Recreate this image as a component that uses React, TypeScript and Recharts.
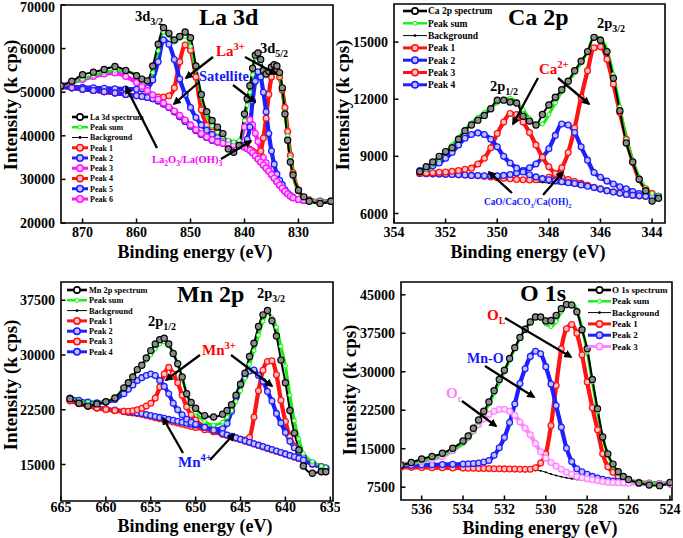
import React from "react";
import { LineChart, Line, XAxis, YAxis, ReferenceArea } from "recharts";

const FONT = "'Liberation Serif', 'Times New Roman', Times, serif";

const RED = "#ff1414";
const BLUE = "#1e1eff";
const MAGENTA = "#ff14ff";
const PINK = "#ff82ff";
const GREEN = "#14f014";
const TINT: Record<string, string> = {
  [RED]: "#ffc4c4",
  [BLUE]: "#c4c4ff",
  [MAGENTA]: "#ffc4ff",
  [PINK]: "#ffe2ff",
};

// ---------------- La 3d ----------------
const laEnergy = [874, 872, 870, 868, 866, 864, 862, 860, 859, 858, 857, 856, 855, 854, 853, 852, 851, 850, 849, 848, 847, 846, 845, 844, 843, 842, 841, 840, 839.5, 839, 838.5, 838, 837.5, 837, 836.5, 836, 835.5, 835, 834.5, 834, 833.5, 833, 832.5, 832, 831.5, 831, 830, 829, 828, 826, 824];
const laSpectrum = [51500, 52500, 54000, 54600, 55200, 55900, 55000, 53800, 53000, 52600, 56000, 61000, 64800, 63500, 62000, 62800, 63800, 62500, 56000, 49500, 45500, 43500, 42000, 40500, 37000, 36200, 37800, 45000, 48500, 51500, 55500, 58500, 59000, 57500, 55000, 54200, 54800, 55800, 56300, 56000, 54500, 51000, 45000, 39000, 34000, 31000, 27500, 26000, 25000, 24500, 25000];
const laSum = [51500, 52200, 53000, 53800, 54500, 55000, 54800, 54000, 53200, 52500, 54500, 59500, 63800, 63000, 61500, 62300, 62800, 60500, 55000, 49000, 44800, 42300, 40800, 39800, 39000, 38600, 38900, 43500, 47000, 50000, 54000, 57800, 58200, 56800, 54500, 53700, 54400, 55400, 55900, 55600, 53800, 50500, 45500, 40000, 35000, 31500, 27200, 25800, 25300, 25100, 25100];
const laBackground = [51300, 51000, 50700, 50400, 50100, 49800, 49500, 49200, 49000, 48800, 48500, 48000, 47300, 46500, 45500, 44400, 43300, 42200, 41200, 40300, 39600, 39000, 38600, 38300, 38100, 37900, 37700, 37400, 37100, 36700, 36100, 35400, 34700, 34000, 33300, 32600, 31900, 31100, 30300, 29500, 28700, 28000, 27300, 26700, 26200, 25800, 25400, 25200, 25100, 25000, 25000];
const laPeak1 = [51300, 51000, 50700, 50400, 50100, 49800, 49500, 49300, 49200, 49100, 49000, 48900, 48900, 49200, 51000, 57000, 60800, 59600, 53500, 46000, 42400, 40800, 39900, 39100, 38600, 38200, 37900, 37500, 37100, 36700, 36100, 35400, 34700, 34000, 33300, 32600, 31900, 31100, 30300, 29500, 28700, 28000, 27300, 26700, 26200, 25800, 25400, 25200, 25100, 25000, 25000];
const laPeak2 = [51300, 51200, 51100, 51000, 50900, 50800, 50750, 50700, 50800, 51000, 52800, 57000, 62000, 61000, 57500, 53000, 49500, 46500, 44200, 42500, 41300, 40300, 39600, 39000, 38600, 38300, 38000, 37600, 37100, 36700, 36100, 35400, 34700, 34000, 33300, 32600, 31900, 31100, 30300, 29500, 28700, 28000, 27300, 26700, 26200, 25800, 25400, 25200, 25100, 25000, 25000];
const laPeak3 = [51300, 51000, 50700, 50400, 50100, 49800, 49500, 49200, 49000, 48800, 48500, 48000, 47300, 46500, 45500, 44400, 43300, 42200, 41200, 40300, 39600, 39000, 38600, 38300, 38100, 38000, 38200, 42000, 43400, 43700, 42500, 40600, 38700, 36500, 35000, 33800, 32400, 31300, 30300, 29500, 28700, 28000, 27300, 26700, 26200, 25800, 25400, 25200, 25100, 25000, 25000];
const laPeak4 = [51300, 51000, 50700, 50400, 50100, 49800, 49500, 49200, 49000, 48800, 48500, 48000, 47300, 46500, 45500, 44400, 43300, 42200, 41200, 40300, 39600, 39000, 38600, 38300, 38100, 37900, 37700, 37400, 37200, 36900, 36500, 36100, 35700, 36500, 39500, 44000, 49500, 53500, 55300, 55400, 53500, 50500, 46500, 41000, 35500, 31500, 27400, 25800, 25300, 25000, 25000];
const laPeak5 = [51300, 51000, 50700, 50400, 50100, 49800, 49500, 49200, 49000, 48800, 48500, 48000, 47300, 46500, 45500, 44400, 43300, 42200, 41200, 40300, 39600, 39000, 38600, 38300, 38100, 37900, 37700, 37800, 39200, 42000, 48000, 52500, 54700, 53500, 50000, 45500, 40500, 36500, 33500, 31200, 29800, 28800, 27600, 26800, 26300, 25900, 25400, 25200, 25100, 25000, 25000];
const laPeak6 = [51500, 52200, 52900, 53600, 54200, 54400, 53600, 52200, 51300, 50400, 49400, 48400, 47500, 46600, 45700, 44700, 43600, 42500, 41400, 40500, 39700, 39100, 38600, 38300, 38100, 37900, 37700, 37400, 37100, 36700, 36100, 35400, 34700, 34000, 33300, 32600, 31900, 31100, 30300, 29500, 28700, 28000, 27300, 26700, 26200, 25800, 25400, 25200, 25100, 25000, 25000];
const laXTicks = [870, 860, 850, 840, 830];
const laYTicks = [20000, 30000, 40000, 50000, 60000, 70000];
const laLegend = ["La 3d spectrum", "Peak sum", "Background", "Peak 1", "Peak 2", "Peak 3", "Peak 4", "Peak 5", "Peak 6"];

// ---------------- Ca 2p ----------------
const caEnergy = [353, 352.75, 352.5, 352.25, 352, 351.75, 351.5, 351.25, 351, 350.75, 350.5, 350.25, 350, 349.75, 349.5, 349.25, 349, 348.75, 348.5, 348.25, 348, 347.75, 347.5, 347.25, 347, 346.75, 346.5, 346.25, 346, 345.75, 345.5, 345.25, 345, 344.75, 344.5, 344.25, 344, 343.75];
const caSpectrum = [8200, 8450, 8700, 9000, 9250, 9450, 9900, 10350, 10650, 10900, 11150, 11500, 11950, 11950, 11850, 11800, 11100, 10850, 10650, 11200, 11700, 12100, 12500, 12950, 13500, 14000, 14500, 15250, 15100, 14500, 13100, 11400, 9700, 8700, 7800, 7200, 6650, 6800];
const caSum = [8150, 8300, 8550, 8850, 9200, 9600, 10000, 10400, 10750, 11050, 11300, 11550, 11800, 12000, 12050, 11850, 11450, 11000, 10650, 10700, 11200, 11800, 12400, 12900, 13400, 13900, 14500, 15300, 15200, 14600, 13300, 11600, 9900, 8800, 7900, 7350, 7050, 6950];
const caBackground = [8100, 8090, 8080, 8070, 8060, 8050, 8040, 8020, 8000, 7980, 7950, 7920, 7880, 7840, 7800, 7760, 7720, 7690, 7660, 7630, 7600, 7570, 7540, 7500, 7460, 7410, 7360, 7290, 7220, 7150, 7090, 7030, 6980, 6940, 6910, 6890, 6880, 6870];
const caPeak1 = [8100, 8090, 8080, 8070, 8060, 8050, 8040, 8020, 8000, 7980, 7950, 7920, 7880, 7850, 7820, 7790, 7770, 7760, 7770, 7820, 7900, 8050, 8400, 9200, 10500, 12100, 13500, 14700, 14750, 14100, 12800, 11300, 9900, 8700, 7800, 7300, 7050, 6900];
const caPeak2 = [8100, 8090, 8080, 8070, 8060, 8050, 8040, 8020, 8000, 7990, 7980, 7980, 7980, 8000, 8050, 8120, 8250, 8400, 8600, 8950, 9400, 10100, 10700, 10650, 10250, 9500, 8800, 8150, 7900, 7700, 7550, 7400, 7300, 7150, 7050, 6980, 6920, 6900];
const caPeak3 = [8120, 8130, 8140, 8160, 8180, 8220, 8260, 8320, 8380, 8600, 8900, 9450, 10200, 10800, 11250, 11200, 10800, 10250, 9600, 8950, 8450, 8100, 7900, 7780, 7680, 7580, 7480, 7380, 7290, 7200, 7140, 7070, 7000, 6950, 6920, 6900, 6880, 6870];
const caPeak4 = [8250, 8350, 8500, 8650, 8900, 9200, 9600, 9950, 10150, 10230, 10150, 9900, 9500, 9000, 8650, 8380, 8180, 8030, 7920, 7830, 7770, 7720, 7670, 7620, 7570, 7500, 7430, 7360, 7280, 7200, 7130, 7060, 7000, 6960, 6930, 6900, 6880, 6870];
const caXTicks = [354, 352, 350, 348, 346, 344];
const caYTicks = [6000, 9000, 12000, 15000];
const caLegend = ["Ca 2p spectrum", "Peak sum", "Background", "Peak 1", "Peak 2", "Peak 3", "Peak 4"];

// ---------------- Mn 2p ----------------
const mnEnergy = [664, 663, 662, 661, 660, 659, 658, 657.5, 657, 656.5, 656, 655.5, 655, 654.5, 654, 653.5, 653, 652.5, 652, 651.5, 651, 650.5, 650, 649, 648, 647, 646.5, 646, 645.5, 645, 644.5, 644, 643.5, 643, 642.5, 642, 641.5, 641, 640.5, 640, 639.5, 639, 638.5, 638, 637, 636, 635.5];
const mnSpectrum = [24000, 23400, 23000, 23300, 23600, 24100, 25500, 26200, 27000, 28000, 28600, 29600, 30600, 31500, 32100, 32300, 31500, 30200, 28800, 27000, 24700, 23500, 22700, 21700, 21500, 21900, 22400, 23200, 24500, 26000, 27500, 29800, 31600, 33900, 35500, 36100, 34700, 32600, 29300, 26200, 22400, 19300, 17000, 14800, 13800, 14000, 14000];
const mnSum = [24000, 23700, 23500, 23400, 23600, 24200, 25500, 26300, 27100, 27900, 28600, 29300, 30000, 30800, 31500, 31800, 31300, 30300, 28800, 26800, 24700, 23100, 22100, 20900, 20400, 20800, 21500, 22400, 23600, 25100, 26800, 28700, 30600, 32700, 34600, 35800, 35100, 33800, 31200, 28500, 24500, 21000, 18500, 16500, 15400, 14800, 14600];
const mnBackground = [23700, 23300, 22950, 22700, 22500, 22350, 22200, 22120, 22050, 21950, 21850, 21700, 21550, 21400, 21250, 21100, 20950, 20800, 20650, 20500, 20350, 20200, 20050, 19750, 19450, 19100, 18950, 18750, 18550, 18350, 18150, 17950, 17750, 17550, 17350, 17150, 16950, 16750, 16550, 16350, 16150, 15950, 15750, 15500, 15000, 14600, 14450];
const mnPeak1 = [23720, 23320, 22970, 22720, 22520, 22370, 22220, 22140, 22070, 21970, 21870, 21720, 21570, 21420, 21270, 21120, 20970, 20820, 20670, 20520, 20370, 20220, 20070, 19770, 19470, 19130, 18990, 18800, 18620, 18450, 18350, 18700, 21500, 25100, 27900, 29100, 29200, 27300, 23800, 20900, 18800, 17500, 16700, 16000, 15100, 14650, 14480];
const mnPeak2 = [23800, 23400, 23050, 22800, 22600, 22450, 22300, 22230, 22160, 22070, 21980, 21850, 21720, 21580, 21450, 21320, 21180, 21050, 20920, 20790, 20660, 20530, 20420, 20100, 19850, 19900, 20600, 22300, 24200, 26000, 27200, 27800, 27950, 27200, 26400, 25000, 23700, 22000, 20700, 19400, 18200, 17300, 16700, 16000, 15200, 14700, 14500];
const mnPeak3 = [23750, 23350, 23000, 22750, 22550, 22400, 22300, 22300, 22350, 22500, 22700, 23000, 23400, 24100, 25600, 27400, 28300, 27400, 26200, 24500, 22900, 21800, 21100, 20100, 19600, 19200, 19000, 18800, 18600, 18400, 18200, 18000, 17800, 17600, 17400, 17200, 17000, 16800, 16600, 16400, 16200, 16000, 15800, 15550, 15050, 14650, 14480];
const mnPeak4 = [24100, 23800, 23550, 23450, 23550, 23900, 24700, 25300, 25900, 26500, 26900, 27200, 27400, 27200, 26500, 25700, 24700, 23400, 22500, 21800, 21200, 20800, 20500, 20100, 19700, 19250, 19050, 18850, 18650, 18450, 18250, 18050, 17850, 17650, 17450, 17250, 17050, 16850, 16650, 16450, 16250, 16050, 15850, 15600, 15080, 14680, 14490];
const mnXTicks = [665, 660, 655, 650, 645, 640, 635];
const mnYTicks = [15000, 22500, 30000, 37500];
const mnLegend = ["Mn 2p spectrum", "Peak sum", "Background", "Peak 1", "Peak 2", "Peak 3", "Peak 4"];

// ---------------- O 1s ----------------
const oEnergy = [537, 536.5, 536, 535.5, 535, 534.5, 534, 533.75, 533.5, 533.25, 533, 532.75, 532.5, 532.25, 532, 531.75, 531.5, 531.25, 531, 530.75, 530.5, 530.25, 530, 529.75, 529.5, 529.25, 529, 528.75, 528.5, 528.25, 528, 527.75, 527.5, 527.25, 527, 526.75, 526.5, 526.25, 526, 525.5, 525, 524.5, 524];
const oSpectrum = [11800, 12300, 13000, 13500, 14100, 15100, 16500, 17500, 19000, 20600, 22300, 24100, 26300, 28500, 30300, 32600, 34700, 36700, 38300, 39700, 40700, 40700, 39900, 40000, 41000, 42300, 43100, 43000, 41700, 38200, 34500, 28500, 22800, 17300, 14000, 12000, 10500, 9600, 9000, 8300, 7900, 7800, 8400];
const oSum = [11900, 12200, 12600, 13100, 13800, 14700, 16000, 17000, 18400, 20000, 21800, 23700, 25800, 28000, 30000, 32300, 34500, 36500, 38300, 39600, 40400, 40400, 39300, 38800, 39800, 41700, 43200, 43400, 42100, 38500, 33800, 28000, 22200, 17300, 13800, 11500, 10200, 9400, 9000, 8500, 8300, 8200, 8150];
const oBackground = [11400, 11380, 11350, 11320, 11290, 11260, 11230, 11210, 11190, 11170, 11150, 11120, 11100, 11080, 11050, 11020, 10990, 10950, 10900, 10840, 10770, 10700, 10400, 10050, 9760, 9550, 9330, 9150, 9000, 8880, 8780, 8680, 8600, 8520, 8450, 8400, 8350, 8300, 8260, 8220, 8190, 8160, 8150];
const oPeak1 = [11400, 11370, 11340, 11310, 11280, 11250, 11220, 11200, 11180, 11160, 11140, 11120, 11100, 11080, 11060, 11040, 11020, 11000, 10980, 11000, 11300, 12200, 14000, 19500, 27300, 34500, 38400, 39200, 37500, 33300, 28000, 23000, 18700, 14000, 11500, 10400, 9600, 9100, 8800, 8450, 8300, 8200, 8150];
const oPeak2 = [11700, 11750, 11800, 11850, 11900, 11950, 12000, 12050, 12100, 12200, 12400, 12700, 13700, 15200, 17200, 20100, 23700, 27700, 30600, 33000, 34000, 33500, 31000, 27600, 23400, 19200, 15100, 12500, 11100, 10500, 10000, 9600, 9300, 9050, 8850, 8700, 8600, 8500, 8420, 8280, 8220, 8180, 8150];
const oPeak3 = [12000, 12200, 12500, 12900, 13500, 14600, 16300, 17300, 18500, 19700, 20800, 21700, 22300, 22650, 22700, 22300, 21500, 20200, 19000, 17700, 16000, 14400, 13200, 12300, 11600, 11000, 10400, 10000, 9600, 9350, 9150, 8950, 8780, 8600, 8450, 8420, 8370, 8320, 8280, 8240, 8210, 8180, 8160];
const oXTicks = [536, 534, 532, 530, 528, 526, 524];
const oYTicks = [7500, 15000, 22500, 30000, 37500, 45000];
const oLegend = ["O 1s spectrum", "Peak sum", "Background", "Peak 1", "Peak 2", "Peak 3"];

type Kind = "spectrum" | "sum" | "bg" | "peak";
interface SeriesDef {
  key: string;
  label: string;
  kind: Kind;
  color: string;
  values: number[];
}

function makeSeries(labels: string[], kinds: Kind[], colors: string[], values: number[][]): SeriesDef[] {
  return labels.map((label, i) => ({ key: "s" + i, label, kind: kinds[i], color: colors[i], values: values[i] }));
}

const laSeries = makeSeries(
  laLegend,
  ["spectrum", "sum", "bg", "peak", "peak", "peak", "peak", "peak", "peak"],
  ["#000", GREEN, "#000", RED, BLUE, MAGENTA, RED, BLUE, MAGENTA],
  [laSpectrum, laSum, laBackground, laPeak1, laPeak2, laPeak3, laPeak4, laPeak5, laPeak6]
);
const caSeries = makeSeries(
  caLegend,
  ["spectrum", "sum", "bg", "peak", "peak", "peak", "peak"],
  ["#000", GREEN, "#000", RED, BLUE, RED, BLUE],
  [caSpectrum, caSum, caBackground, caPeak1, caPeak2, caPeak3, caPeak4]
);
const mnSeries = makeSeries(
  mnLegend,
  ["spectrum", "sum", "bg", "peak", "peak", "peak", "peak"],
  ["#000", GREEN, "#000", RED, BLUE, RED, BLUE],
  [mnSpectrum, mnSum, mnBackground, mnPeak1, mnPeak2, mnPeak3, mnPeak4]
);
const oSeries = makeSeries(
  oLegend,
  ["spectrum", "sum", "bg", "peak", "peak", "peak"],
  ["#000", GREEN, "#000", RED, BLUE, PINK],
  [oSpectrum, oSum, oBackground, oPeak1, oPeak2, oPeak3]
);

function buildRows(energy: number[], series: SeriesDef[]) {
  return energy.map((x, i) => {
    const row: Record<string, number> = { x };
    series.forEach((s) => {
      row[s.key] = s.values[i];
    });
    return row;
  });
}

function renderLine(s: SeriesDef) {
  if (s.kind === "spectrum") {
    return (
      <Line key={s.key} dataKey={s.key} type="monotone" isAnimationActive={false} stroke="#000" strokeWidth={2}
        dot={{ r: 3.1, fill: "#8c8c8c", stroke: "#000", strokeWidth: 1.2 }} activeDot={false} />
    );
  }
  if (s.kind === "sum") {
    return (
      <Line key={s.key} dataKey={s.key} type="monotone" isAnimationActive={false} stroke={s.color} strokeWidth={3}
        dot={{ r: 2, fill: "#eaffea", stroke: s.color, strokeWidth: 1 }} activeDot={false} />
    );
  }
  if (s.kind === "bg") {
    return (
      <Line key={s.key} dataKey={s.key} type="monotone" isAnimationActive={false} stroke="#000" strokeWidth={1}
        dot={{ r: 1, fill: "#000", stroke: "#000", strokeWidth: 0 }} activeDot={false} />
    );
  }
  return (
    <Line key={s.key} dataKey={s.key} type="monotone" isAnimationActive={false} stroke={s.color} strokeWidth={4.2}
      dot={{ r: 2.9, fill: TINT[s.color], stroke: s.color, strokeWidth: 1.3 }} activeDot={false} />
  );
}

function XTick({ x, value, plotBottom, baseline }: { x: number; value: number; plotBottom: number; baseline: number }) {
  return (
    <g>
      <line x1={x} x2={x} y1={plotBottom} y2={plotBottom - 4.5} stroke="#000" strokeWidth={1.5} />
      <text x={x} y={baseline} textAnchor="middle" fontFamily={FONT} fontWeight={700} fontSize={14} fill="#000">
        {value}
      </text>
    </g>
  );
}

function YTick({ y, value, plotLeft }: { y: number; value: number; plotLeft: number }) {
  const ty = Math.max(y, 7);
  return (
    <g>
      <line x1={plotLeft} x2={plotLeft + 4.5} y1={y} y2={y} stroke="#000" strokeWidth={1.5} />
      <text x={plotLeft - 6} y={ty} dy="0.36em" textAnchor="end" fontFamily={FONT} fontWeight={700} fontSize={14} fill="#000">
        {value}
      </text>
    </g>
  );
}

interface PanelProps {
  left: number;
  top: number;
  width: number;
  height: number;
  margin: { top: number; right: number; bottom: number; left: number };
  yAxisWidth: number;
  xAxisHeight: number;
  energy: number[];
  series: SeriesDef[];
  xDomain: [number, number];
  yDomain: [number, number];
  xTicks: number[];
  yTicks: number[];
  xLabelBaseline: number;
}

function Panel(p: PanelProps) {
  const rows = buildRows(p.energy, p.series);
  const plotLeft = p.margin.left + p.yAxisWidth;
  const plotBottom = p.height - p.margin.bottom - p.xAxisHeight;
  const ordered = [
    ...p.series.filter((s) => s.kind === "bg"),
    ...p.series.filter((s) => s.kind === "peak"),
    ...p.series.filter((s) => s.kind === "sum"),
    ...p.series.filter((s) => s.kind === "spectrum"),
  ];
  return (
    <div style={{ position: "absolute", left: p.left, top: p.top, width: p.width, height: p.height }}>
      <LineChart width={p.width} height={p.height} data={rows} margin={p.margin}>
        <XAxis
          dataKey="x"
          type="number"
          domain={p.xDomain}
          reversed
          allowDataOverflow
          ticks={p.xTicks}
          interval={0}
          height={p.xAxisHeight}
          axisLine={false}
          tickLine={false}
          tick={(t: any) => <XTick x={t.x} value={t.payload.value} plotBottom={plotBottom} baseline={p.xLabelBaseline} />}
        />
        <YAxis
          type="number"
          domain={p.yDomain}
          allowDataOverflow
          ticks={p.yTicks}
          interval={0}
          width={p.yAxisWidth}
          axisLine={false}
          tickLine={false}
          tick={(t: any) => <YTick y={t.y} value={t.payload.value} plotLeft={plotLeft} />}
        />
        <ReferenceArea
          x1={p.xDomain[0]}
          x2={p.xDomain[1]}
          y1={p.yDomain[0]}
          y2={p.yDomain[1]}
          fill="none"
          fillOpacity={0}
          stroke="#000"
          strokeWidth={1.6}
          ifOverflow="visible"
        />
        {ordered.map((s) => renderLine(s))}
      </LineChart>
    </div>
  );
}

const bold = { fontFamily: FONT, fontWeight: 700 } as const;

function Arrow({ x1, y1, x2, y2 }: { x1: number; y1: number; x2: number; y2: number }) {
  return <line x1={x1} y1={y1} x2={x2} y2={y2} stroke="#000" strokeWidth={2.3} markerEnd="url(#ah)" />;
}

function LegendBlock({ series, x1, x2, textX, y0, dy, fontSize }: { series: SeriesDef[]; x1: number; x2: number; textX: number; y0: number; dy: number; fontSize: number }) {
  const mid = (x1 + x2) / 2;
  return (
    <g>
      {series.map((s, i) => {
        const y = y0 + i * dy;
        let marker: React.ReactNode;
        if (s.kind === "spectrum") {
          marker = (
            <g>
              <line x1={x1} x2={x2} y1={y} y2={y} stroke="#000" strokeWidth={2.6} />
              <circle cx={mid} cy={y} r={3.1} fill="#fff" stroke="#000" strokeWidth={1.6} />
            </g>
          );
        } else if (s.kind === "sum") {
          marker = (
            <g>
              <line x1={x1} x2={x2} y1={y} y2={y} stroke={s.color} strokeWidth={2.4} />
              <circle cx={mid} cy={y} r={2} fill="#fff" stroke={s.color} strokeWidth={1} />
            </g>
          );
        } else if (s.kind === "bg") {
          marker = (
            <g>
              <line x1={x1} x2={x2} y1={y} y2={y} stroke="#000" strokeWidth={1} />
              <circle cx={mid} cy={y} r={1.4} fill="#000" />
            </g>
          );
        } else {
          marker = (
            <g>
              <line x1={x1} x2={x2} y1={y} y2={y} stroke={s.color} strokeWidth={3} />
              <circle cx={mid} cy={y} r={3.2} fill={TINT[s.color]} stroke={s.color} strokeWidth={1.6} />
            </g>
          );
        }
        return (
          <g key={s.key}>
            {marker}
            <text x={textX} y={y} dy="0.35em" fontSize={fontSize} {...bold} fill="#000">
              {s.label}
            </text>
          </g>
        );
      })}
    </g>
  );
}

function YTitle({ x, y }: { x: number; y: number }) {
  return (
    <text transform={`translate(${x},${y}) rotate(-90)`} textAnchor="middle" fontSize={19} {...bold} fill="#000">
      Intensity (k cps)
    </text>
  );
}

function XTitle({ x, y }: { x: number; y: number }) {
  return (
    <text x={x} y={y} textAnchor="middle" fontSize={18} {...bold} fill="#000">
      Binding energy (eV)
    </text>
  );
}

export default function App() {
  return (
    <div style={{ position: "absolute", left: 0, top: 0, width: 683, height: 538, background: "#fff", overflow: "hidden" }}>
      <Panel
        left={0} top={0} width={340} height={270}
        margin={{ top: 5, right: 7, bottom: 0, left: 0 }}
        yAxisWidth={61} xAxisHeight={47}
        energy={laEnergy} series={laSeries}
        xDomain={[823.6, 874]} yDomain={[20000, 70000]}
        xTicks={laXTicks} yTicks={laYTicks} xLabelBaseline={237}
      />
      <Panel
        left={340} top={0} width={343} height={270}
        margin={{ top: 4, right: 18, bottom: 0, left: 0 }}
        yAxisWidth={54} xAxisHeight={47}
        energy={caEnergy} series={caSeries}
        xDomain={[343.5, 354]} yDomain={[5500, 17000]}
        xTicks={caXTicks} yTicks={caYTicks} xLabelBaseline={237}
      />
      <Panel
        left={0} top={270} width={340} height={268}
        margin={{ top: 12, right: 7, bottom: 0, left: 0 }}
        yAxisWidth={61} xAxisHeight={37}
        energy={mnEnergy} series={mnSeries}
        xDomain={[634.7, 665]} yDomain={[10000, 40000]}
        xTicks={mnXTicks} yTicks={mnYTicks} xLabelBaseline={242}
      />
      <Panel
        left={340} top={270} width={343} height={268}
        margin={{ top: 12, right: 11, bottom: 0, left: 0 }}
        yAxisWidth={61} xAxisHeight={38}
        energy={oEnergy} series={oSeries}
        xDomain={[523.9, 537]} yDomain={[5000, 47500]}
        xTicks={oXTicks} yTicks={oYTicks} xLabelBaseline={244}
      />

      <svg width={683} height={538} style={{ position: "absolute", left: 0, top: 0, pointerEvents: "none" }}>
        <defs>
          <marker id="ah" viewBox="0 0 10 10" refX="8" refY="5" markerWidth="3.6" markerHeight="3.6" orient="auto">
            <path d="M0,0 L10,5 L0,10 z" fill="#000" />
          </marker>
        </defs>

        {/* axis titles */}
        <YTitle x={16.5} y={105} />
        <XTitle x={195} y={258} />
        <YTitle x={349} y={105} />
        <XTitle x={528} y={258} />
        <YTitle x={16.5} y={385} />
        <XTitle x={195} y={532} />
        <YTitle x={356} y={390} />
        <XTitle x={540} y={534} />

        {/* panel titles */}
        <text x={199} y={25} fontSize={24} {...bold}>La 3d</text>
        <text x={508} y={25} fontSize={24} {...bold}>Ca 2p</text>
        <text x={177} y={302} fontSize={24} {...bold}>Mn 2p</text>
        <text x={520} y={301} fontSize={24} {...bold}>O 1s</text>

        {/* legends */}
        <LegendBlock series={laSeries} x1={72} x2={88} textX={90} y0={117} dy={10.25} fontSize={8} />
        <LegendBlock series={caSeries} x1={403} x2={427} textX={428} y0={11} dy={12.3} fontSize={9.5} />
        <LegendBlock series={mnSeries} x1={67} x2={87} textX={89} y0={290} dy={10.3} fontSize={8.3} />
        <LegendBlock series={oSeries} x1={588} x2={611} textX={612} y0={290} dy={11.3} fontSize={9} />

        {/* La 3d annotations */}
        <text x={135} y={21} fontSize={14.5} {...bold}>3d<tspan dy={4} fontSize={10}>3/2</tspan></text>
        <text x={260} y={53} fontSize={14.5} {...bold}>3d<tspan dy={4} fontSize={10}>5/2</tspan></text>
        <text x={216} y={56} fontSize={15} {...bold} fill="#ff0000">La<tspan dy={-6} fontSize={10.5}>3+</tspan></text>
        <text x={199} y={81} fontSize={14.5} {...bold} fill="#1515ff">Satellite</text>
        <text x={152} y={163} fontSize={10.5} {...bold} fill="#ff00ff">
          La<tspan dy={3} fontSize={7.5}>2</tspan><tspan dy={-3}>O</tspan><tspan dy={3} fontSize={7.5}>3</tspan><tspan dy={-3}>/La(OH)</tspan><tspan dy={3} fontSize={7.5}>3</tspan>
        </text>
        <Arrow x1={213} y1={57} x2={186} y2={78} />
        <Arrow x1={245} y1={57} x2={276} y2={74} />
        <Arrow x1={198} y1={83} x2={174} y2={104} />
        <Arrow x1={233} y1={85} x2={255} y2={102} />
        <Arrow x1={157} y1={148} x2={126} y2={87} />
        <Arrow x1={221} y1={159} x2={251} y2={141} />

        {/* Ca 2p annotations */}
        <text x={490} y={91} fontSize={14.5} {...bold}>2p<tspan dy={4} fontSize={10}>1/2</tspan></text>
        <text x={597} y={28} fontSize={14.5} {...bold}>2p<tspan dy={4} fontSize={10}>3/2</tspan></text>
        <text x={539} y={74} fontSize={15} {...bold} fill="#ff0000">Ca<tspan dy={-6} fontSize={10.5}>2+</tspan></text>
        <text x={484} y={205} fontSize={9.3} {...bold} fill="#1515ff">
          CaO/CaCO<tspan dy={2.5} fontSize={6.5}>3</tspan><tspan dy={-2.5}>/Ca(OH)</tspan><tspan dy={2.5} fontSize={6.5}>2</tspan>
        </text>
        <Arrow x1={538} y1={78} x2={513} y2={124} />
        <Arrow x1={558} y1={78} x2={589} y2={104} />
        <Arrow x1={512} y1={193} x2={489} y2={172} />
        <Arrow x1={543} y1={195} x2={563} y2={172} />

        {/* Mn 2p annotations */}
        <text x={148} y={326} fontSize={14.5} {...bold}>2p<tspan dy={4} fontSize={10}>1/2</tspan></text>
        <text x={257} y={298} fontSize={14.5} {...bold}>2p<tspan dy={4} fontSize={10}>3/2</tspan></text>
        <text x={202} y={355} fontSize={15} {...bold} fill="#ff0000">Mn<tspan dy={-6} fontSize={10.5}>3+</tspan></text>
        <text x={178} y={467} fontSize={15} {...bold} fill="#1515ff">Mn<tspan dy={-6} fontSize={10.5}>4+</tspan></text>
        <Arrow x1={200} y1={355} x2={166} y2={380} />
        <Arrow x1={231} y1={355} x2={272} y2={386} />
        <Arrow x1={183} y1={453} x2={163} y2={418} />
        <Arrow x1={210} y1={460} x2={234} y2={434} />

        {/* O 1s annotations */}
        <text x={487} y={320} fontSize={15} {...bold} fill="#ff0000">O<tspan dy={4} fontSize={10}>L</tspan></text>
        <text x={467} y={363} fontSize={14} {...bold} fill="#1515ff">Mn-O</text>
        <text x={446} y={398} fontSize={15} {...bold} fill="#ff80ff">O<tspan dy={4} fontSize={10}>c</tspan></text>
        <Arrow x1={505} y1={318} x2={571} y2={357} />
        <Arrow x1={485} y1={366} x2={534} y2={397} />
        <Arrow x1={462} y1={401} x2={496} y2={426} />
      </svg>
    </div>
  );
}
